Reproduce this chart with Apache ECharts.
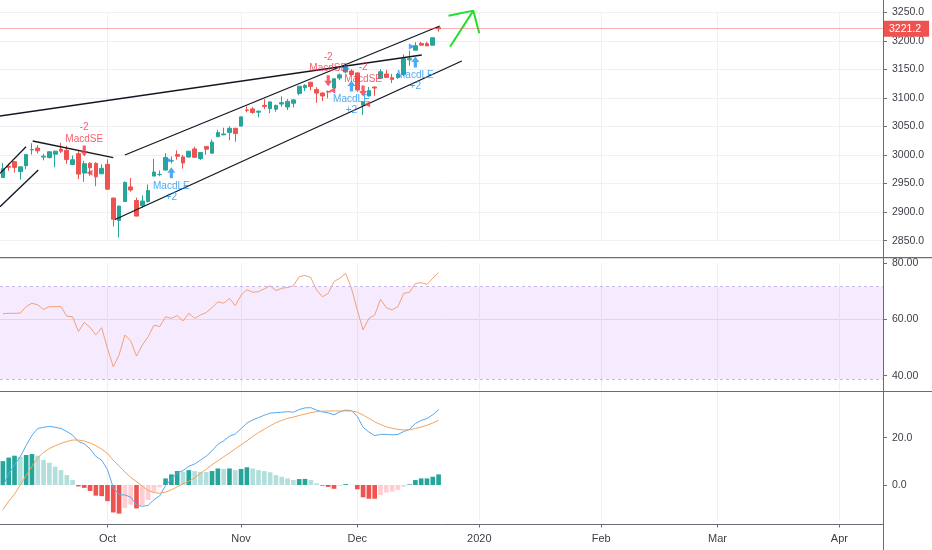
<!DOCTYPE html>
<html><head><meta charset="utf-8">
<script src="https://cdn.jsdelivr.net/npm/echarts@6/dist/echarts.min.js"></script>
<style>html,body{margin:0;padding:0;background:#fff}#c{width:932px;height:550px}</style>
</head><body><div id="c"></div><script>
// ---- data ----
const dates = ['2019-09-05','2019-09-06','2019-09-09','2019-09-10','2019-09-11','2019-09-12','2019-09-13','2019-09-16','2019-09-17','2019-09-18','2019-09-19','2019-09-20','2019-09-23','2019-09-24','2019-09-25','2019-09-26','2019-09-27','2019-09-30',
'2019-10-01','2019-10-02','2019-10-03','2019-10-04','2019-10-07','2019-10-08','2019-10-09','2019-10-10','2019-10-11','2019-10-14','2019-10-15','2019-10-16','2019-10-17','2019-10-18','2019-10-21','2019-10-22','2019-10-23','2019-10-24','2019-10-25','2019-10-28','2019-10-29','2019-10-30','2019-10-31',
'2019-11-01','2019-11-04','2019-11-05','2019-11-06','2019-11-07','2019-11-08','2019-11-11','2019-11-12','2019-11-13','2019-11-14','2019-11-15','2019-11-18','2019-11-19','2019-11-20','2019-11-21','2019-11-22','2019-11-25','2019-11-26','2019-11-27','2019-11-29',
'2019-12-02','2019-12-03','2019-12-04','2019-12-05','2019-12-06','2019-12-09','2019-12-10','2019-12-11','2019-12-12','2019-12-13','2019-12-16','2019-12-17','2019-12-18','2019-12-19','2019-12-20'];
const opens = [2960.6,2980.3,2988.4,2971.0,2981.4,3009.1,3012.2,2996.4,2995.7,3001.5,3010.4,3008.4,2983.5,3002.4,2968.4,2985.7,2985.5,2967.1,
2983.7,2924.8,2885.4,2918.6,2944.2,2920.4,2911.1,2918.6,2963.1,2965.8,2973.6,2989.7,3000.8,2996.8,2996.5,3010.7,2994.0,3014.8,3003.3,3032.1,3035.4,3039.7,3046.9,
3050.7,3078.9,3080.8,3075.1,3087.0,3081.3,3080.3,3089.3,3084.2,3090.8,3107.9,3117.9,3127.5,3114.7,3108.5,3111.4,3117.4,3134.9,3145.5,3147.2,
3143.9,3087.4,3103.5,3119.2,3134.6,3141.9,3135.4,3135.8,3141.2,3166.7,3183.6,3195.4,3195.2,3192.3,3223.3];
const highs = [2985.9,2985.0,2989.4,2979.4,3000.9,3020.7,3017.3,3002.2,3006.2,3007.8,3021.4,3016.4,2999.2,3007.4,2989.8,2987.3,2987.3,2983.8,
2992.5,2924.8,2911.1,2953.7,2959.8,2925.5,2929.3,2948.5,2993.3,2972.8,3003.3,2997.5,3008.3,3000.0,3007.3,3014.6,3004.8,3016.1,3027.4,3044.1,3047.9,3050.1,3046.9,
3066.9,3085.2,3083.9,3078.3,3097.8,3093.1,3088.3,3102.6,3098.1,3098.2,3120.5,3124.2,3127.6,3118.9,3110.1,3112.9,3133.8,3142.7,3154.3,3150.3,
3144.3,3094.1,3119.4,3119.4,3150.6,3148.9,3142.1,3144.0,3176.3,3182.7,3197.7,3198.2,3198.5,3205.5,3225.6];
const lows = [2960.6,2972.5,2969.4,2957.0,2975.3,3000.9,3002.9,2990.7,2993.7,2978.6,3003.2,2984.7,2982.2,2957.7,2952.9,2963.7,2945.5,2967.1,
2938.7,2874.9,2855.9,2918.6,2935.7,2892.7,2907.4,2917.1,2963.1,2962.9,2973.6,2985.2,2991.8,2976.3,2995.4,2995.0,2991.2,3000.4,3001.9,3032.1,3034.8,3025.9,3023.2,
3050.7,3074.9,3072.2,3065.9,3080.3,3073.6,3075.8,3084.7,3078.8,3083.3,3104.6,3112.1,3113.5,3091.4,3094.6,3099.3,3117.4,3131.0,3143.4,3139.3,
3110.8,3070.3,3102.5,3103.8,3134.6,3135.5,3126.1,3133.2,3138.5,3156.5,3183.6,3191.0,3191.1,3192.3,3216.0];
const closes = [2976.0,2978.7,2978.4,2979.4,3000.9,3009.6,3007.4,2997.9,3005.7,3006.7,3006.8,2992.1,2991.8,2966.6,2984.9,2977.6,2961.8,2976.7,
2940.3,2887.6,2910.6,2952.0,2938.8,2893.1,2919.4,2938.1,2970.3,2966.2,2995.7,2990.0,2997.9,2986.2,3006.7,2996.0,3004.5,3010.3,3022.6,3039.4,3036.9,3046.8,3037.6,
3066.9,3078.3,3074.6,3076.8,3085.2,3093.1,3087.0,3091.8,3094.0,3096.6,3120.5,3122.0,3120.2,3108.5,3103.5,3110.3,3133.6,3140.5,3153.6,3141.0,
3113.9,3093.2,3112.8,3117.4,3145.9,3136.0,3132.5,3141.6,3168.6,3168.8,3191.5,3192.5,3191.1,3205.4,3221.2];
const lastPrice = 3221.2;

const rsi = [62.1,62.2,62.2,62.3,64.6,65.8,65.2,63.6,64.6,64.6,64.6,61.2,61.0,55.7,59.0,57.2,54.5,57.1,
49.7,43.2,47.4,54.5,52.4,47.0,50.9,53.9,58.0,57.5,61.0,60.4,61.4,59.5,62.2,60.4,61.6,62.5,64.2,66.3,65.8,67.5,64.9,
68.7,70.6,69.7,69.9,70.9,72.0,70.3,71.1,71.4,72.0,75.2,75.7,74.9,70.5,68.1,69.3,73.5,74.7,76.4,71.1,
63.4,56.3,60.4,61.6,67.2,64.2,63.4,64.6,69.3,69.7,72.8,73.1,72.5,74.7,76.7];
const rsiBand = [71.7, 38.8];

const macd = [-0.3,4.7,8.5,12.0,16.7,21.0,23.9,24.4,24.8,24.4,23.9,22.6,21.1,18.4,17.4,15.3,12.1,10.5,
6.5,-1.1,-4.1,-4.2,-5.1,-8.5,-9.0,-8.6,-6.2,-4.5,-0.2,2.5,5.1,6.1,7.9,8.9,10.5,12.2,14.5,17.2,18.7,20.6,21.6,
23.8,26.2,27.5,28.5,29.5,30.4,30.6,30.8,31.0,30.8,31.9,32.6,32.7,31.7,30.9,30.5,29.7,30.9,31.7,31.4,
29.0,24.4,22.4,20.9,21.4,21.4,21.2,21.4,22.6,23.6,26.0,27.3,28.1,29.7,31.9];
const signal = [-10.4,-6.9,-3.9,0.0,4.0,7.9,11.5,13.8,15.4,16.6,17.6,18.4,19.0,19.0,18.6,17.8,16.6,15.2,
13.3,10.5,8.0,5.5,3.2,1.4,-0.5,-2.3,-3.2,-3.5,-3.0,-2.0,-0.8,0.5,1.6,3.0,4.9,6.7,8.6,10.2,11.9,13.6,15.3,
17.0,18.7,20.5,22.2,23.6,25.0,26.4,27.3,28.2,28.7,29.4,30.0,30.6,31.0,31.2,31.3,31.3,31.3,31.3,31.3,
30.8,29.6,28.2,26.7,25.6,24.6,24.0,23.5,23.3,23.3,23.9,24.5,25.3,26.2,27.4];
const hist = [10.1,11.6,12.4,12.0,12.7,13.1,12.4,10.6,9.4,7.8,6.3,4.2,2.1,-0.6,-1.2,-2.5,-4.5,-4.7,
-6.8,-11.6,-12.1,-9.7,-8.3,-9.9,-8.5,-6.3,-3.0,-1.0,2.8,4.5,5.9,5.6,6.3,5.9,5.6,5.5,5.9,7.0,6.8,7.0,6.3,
6.8,7.5,7.0,6.3,5.9,5.4,4.2,3.5,2.8,2.1,2.5,2.6,2.1,0.7,-0.3,-0.8,-1.6,-0.4,0.4,0.1,
-1.8,-5.2,-5.8,-5.8,-4.2,-3.2,-2.8,-2.1,-0.7,0.3,2.1,2.8,2.8,3.5,4.5];

// strategy signals: [bar index, arrow price]
const shortSignals = [[14, 3007], [56, 3130], [62, 3112]];
const longSignals = [[29, 2969], [60, 3121], [71, 3163]];
const shortLabel = ['-2', 'MacdSE'];
const longLabel = ['MacdLE', '+2'];
const exitFlagsRed = [[14.9, 2969], [56.7, 3113], [62.7, 3089]];
const exitFlagsBlue = [[28.6, 2991], [59.2, 3151], [70.4, 3190]];

// drawn trend lines: [[idx, price], [idx, price]]
const trendLines = [
  [[-0.5, 2968.0], [3.98, 3014.6]],
  [[-0.5, 2909.5], [6.09, 2973.8]],
  [[5.13, 3024.6], [19.0, 2995.4]],
  [[19.3, 2887.1], [79.0, 3164.7]],
  [[21.0, 3000.1], [75.2, 3226.0]],
  [[-0.5, 3068.4], [72.1, 3175.2]]
];
const greenArrow = [
  [[76.97, 3189.8], [80.98, 3252.9]],
  [[76.7, 3244.0], [80.98, 3252.9], [82.0, 3213.2]]
];

const monthIdx = [18, 41, 61, 82, 103, 123, 144];
const monthLabels = ['Oct', 'Nov', 'Dec', '2020', 'Feb', 'Mar', 'Apr'];
const priceTicks = [2850, 3250, 50];
const rsiTickLabels = [40, 60, 80];
const macdTickLabels = [0, 20];
const N = 152;

// ---- build ----
const cats = dates.slice();
for (let i = dates.length; i < N; i++) cats.push('f' + i);
const ohlc = opens.map((o, i) => [o, closes[i], lows[i], highs[i]]);
const histData = hist.map((v, i) => {
  const p = i > 0 ? hist[i - 1] : v;
  let c;
  if (v >= 0) c = v >= p ? '#26a69a' : '#b2dfdb';
  else c = v <= p ? '#ef5350' : '#ffcdd2';
  return { value: v, itemStyle: { color: c } };
});
const isMonth = (i) => monthIdx.indexOf(i) >= 0;
const gridColor = '#eef0f5';
const txt = '#3a3d45';
const font = 'Liberation Sans';

const xCat = (g, withLabels) => ({
  type: 'category', gridIndex: g, data: cats, boundaryGap: true,
  axisLine: { show: withLabels, onZero: false, lineStyle: { color: '#6a6d78', width: 1 } },
  offset: withLabels ? 4 : 0,
  axisTick: { show: withLabels, alignWithLabel: true, length: 3, interval: (i) => isMonth(i), lineStyle: { color: '#6a6d78' } },
  axisLabel: {
    show: withLabels, interval: (i) => isMonth(i), margin: 9, fontSize: 11, color: txt, fontFamily: font,
    formatter: (v, i) => { const k = monthIdx.indexOf(i); return k >= 0 ? monthLabels[k] : ''; }
  },
  splitLine: { show: true, alignWithLabel: true, interval: (i) => isMonth(i), lineStyle: { color: gridColor, width: 1 } }
});

const signalSymbolDown = 'path://M3,0H7V6H10L5,12L0,6H3Z';
const signalSymbolUp = 'path://M5,0L10,6H7V12H3V6H0Z';

const series = [
  {
    type: 'candlestick', xAxisIndex: 0, yAxisIndex: 0, data: ohlc, barWidth: '72%',
    itemStyle: { color: '#26a69a', color0: '#ef5350', borderColor: '#26a69a', borderColor0: '#ef5350', borderWidth: 1 },
    markLine: {
      silent: true, symbol: ['none', 'none'], animation: false,
      lineStyle: { color: 'rgba(239,83,80,0.45)', type: 'solid', width: 1 },
      label: { show: true, position: 'end', distance: 1, formatter: () => lastPrice.toFixed(1), color: '#fff', backgroundColor: '#ef5350', padding: [3, 8, 2, 5], fontSize: 10.5, fontFamily: font },
      data: [{ yAxis: lastPrice }]
    }
  }
];
trendLines.forEach((seg) => series.push({
  type: 'line', xAxisIndex: 3, yAxisIndex: 0, data: seg, symbol: 'none', silent: true,
  lineStyle: { color: '#131722', width: 1.3 }, clip: false, z: 3
}));
greenArrow.forEach((seg) => series.push({
  type: 'line', xAxisIndex: 3, yAxisIndex: 0, data: seg, symbol: 'none', silent: true,
  lineStyle: { color: '#22e02a', width: 2 }, clip: false, z: 3
}));
series.push({
  type: 'scatter', xAxisIndex: 3, yAxisIndex: 0, data: shortSignals, symbol: signalSymbolDown, symbolSize: [8, 11], z: 5,
  itemStyle: { color: '#f23645' },
  label: { show: true, position: 'top', distance: 1, formatter: shortLabel.join('\n'), color: '#f23645', fontSize: 10, lineHeight: 11.5, fontFamily: font, align: 'center' }
});
series.push({
  type: 'scatter', xAxisIndex: 3, yAxisIndex: 0, data: longSignals, symbol: signalSymbolUp, symbolSize: [8, 11], z: 5,
  itemStyle: { color: '#2196f3' },
  label: { show: true, position: 'bottom', distance: 2, formatter: longLabel.join('\n'), color: '#2196f3', fontSize: 10, lineHeight: 11.5, fontFamily: font, align: 'center' }
});
series.push({
  type: 'scatter', xAxisIndex: 3, yAxisIndex: 0, data: exitFlagsRed, symbol: 'triangle', symbolRotate: 90, symbolSize: [6, 6], z: 5,
  itemStyle: { color: '#f23645' }
});
series.push({
  type: 'scatter', xAxisIndex: 3, yAxisIndex: 0, data: exitFlagsBlue, symbol: 'triangle', symbolRotate: -90, symbolSize: [6, 6], z: 5,
  itemStyle: { color: '#2196f3' }
});
series.push({
  type: 'line', xAxisIndex: 1, yAxisIndex: 1, data: rsi, symbol: 'none', z: 3,
  lineStyle: { color: '#f3a176', width: 1 },
  markArea: {
    silent: true,
    itemStyle: { color: 'rgba(153,21,255,0.09)', borderWidth: 0 },
    data: [[{ yAxis: rsiBand[0] }, { yAxis: rsiBand[1] }]]
  },
  markLine: {
    silent: true, symbol: ['none', 'none'], label: { show: false },
    lineStyle: { color: '#c9b7e6', type: [3, 3], width: 1 },
    data: [{ yAxis: rsiBand[0] }, { yAxis: rsiBand[1] }]
  }
});
series.push({ type: 'bar', xAxisIndex: 2, yAxisIndex: 2, data: histData, barWidth: '80%' });
series.push({ type: 'line', xAxisIndex: 2, yAxisIndex: 2, data: macd, symbol: 'none', lineStyle: { color: '#58a8ec', width: 1 }, z: 3 });
series.push({ type: 'line', xAxisIndex: 2, yAxisIndex: 2, data: signal, symbol: 'none', lineStyle: { color: '#f5a35d', width: 1 }, z: 3 });

const T = 'rgba(0,0,0,0)';
const option = {
  animation: false,
  backgroundColor: '#ffffff',
  textStyle: { fontFamily: font },
  grid: [
    { left: 0, right: 49, top: 12.3, height: 228.4 },
    { left: 0, right: 49, top: 263.3, height: 126.5 },
    { left: 0, right: 49, top: 390.4, height: 130.1 }
  ],
  xAxis: [
    xCat(0, false), xCat(1, false), xCat(2, true),
    { type: 'value', gridIndex: 0, min: -0.5, max: N - 0.5, show: false, axisLine: { onZero: false } }
  ],
  yAxis: [
    {
      type: 'value', gridIndex: 0, position: 'right', min: priceTicks[0], max: priceTicks[1], interval: priceTicks[2],
      axisLine: { show: false, onZero: false },
      axisTick: { show: true, length: 4, lineStyle: { color: '#6a6d78' } },
      axisLabel: { margin: 9, fontSize: 10.5, color: txt, fontFamily: font, formatter: (v) => v.toFixed(1) },
      splitLine: { lineStyle: { color: gridColor } }
    },
    {
      type: 'value', gridIndex: 1, position: 'right', min: 35, max: 80, interval: 5,
      axisLine: { show: false, onZero: false },
      axisTick: { show: true, length: 4, customValues: rsiTickLabels, lineStyle: { color: '#6a6d78' } },
      axisLabel: { margin: 9, fontSize: 10.5, color: txt, fontFamily: font, showMinLabel: true, showMaxLabel: true,
        formatter: (v) => rsiTickLabels.indexOf(v) >= 0 ? v.toFixed(2) : '' },
      splitLine: { lineStyle: { color: [T, '#eae4f3', T, T, T, '#eae4f3', T, T, T, gridColor] } }
    },
    {
      type: 'value', gridIndex: 2, position: 'right', min: -15, max: 40, interval: 5,
      axisLine: { show: false, onZero: false },
      axisTick: { show: true, length: 4, customValues: macdTickLabels, lineStyle: { color: '#6a6d78' } },
      axisLabel: { margin: 9, fontSize: 10.5, color: txt, fontFamily: font,
        formatter: (v) => macdTickLabels.indexOf(v) >= 0 ? v.toFixed(1) : '' },
      splitLine: { lineStyle: { color: [T, T, T, gridColor, T, T, T, gridColor, T, T, T, T] } }
    }
  ],
  graphic: [
    { type: 'line', z: 100, shape: { x1: 883.5, y1: 0, x2: 883.5, y2: 550 }, style: { stroke: '#6a6d78', lineWidth: 1 } },
    { type: 'line', z: 100, shape: { x1: 0, y1: 257.7, x2: 932, y2: 257.7 }, style: { stroke: '#6a6d78', lineWidth: 1.2 } },
    { type: 'line', z: 100, shape: { x1: 0, y1: 391.5, x2: 932, y2: 391.5 }, style: { stroke: '#6a6d78', lineWidth: 1.2 } }
  ],
  series: series
};
const chart = echarts.init(document.getElementById('c'), null, { renderer: 'canvas' });
chart.setOption(option);
</script></body></html>
